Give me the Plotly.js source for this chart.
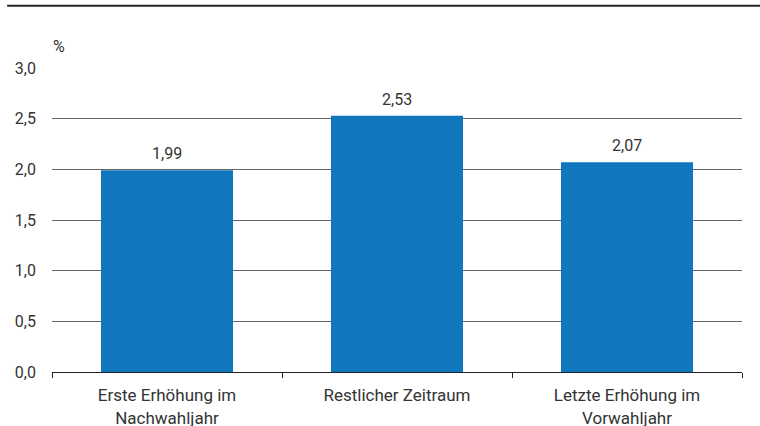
<!DOCTYPE html>
<html><head><meta charset="utf-8">
<script src="https://cdn.plot.ly/plotly-3.0.1.min.js"></script>
<style>body{margin:0;background:#fff}#c{width:760px;height:426px}</style>
</head><body><div id="c"></div>
<script>
const categories = ["Erste Erhöhung im<br>Nachwahljahr", "Restlicher Zeitraum", "Letzte Erhöhung im<br>Vorwahljahr"];
const values = [1.99, 2.53, 2.07];
const valueLabels = ["1,99", "2,53", "2,07"];
const yTickVals = [0, 0.5, 1, 1.5, 2, 2.5, 3];
const yTickText = ["0,0", "0,5", "1,0", "1,5", "2,0", "2,5", "3,0"];

const font = {family: "Roboto, 'Noto Sans', sans-serif", size: 16, color: "#333"};
const xFont = {family: font.family, size: 17, color: "#333"};
const valueAnnotations = categories.map((c, i) => ({
  x: c, y: values[i], xref: "x", yref: "y", text: valueLabels[i],
  showarrow: false, yanchor: "bottom", yshift: 5, font: font
}));
Plotly.newPlot("c", [{
  type: "bar", x: categories, y: values,
  marker: {color: "#1076BE"}, width: 0.574, hoverinfo: "none"
}], {
  width: 760, height: 426,
  margin: {l: 52, r: 18, t: 68, b: 54},
  paper_bgcolor: "#fff", plot_bgcolor: "#fff",
  font: font, showlegend: false,
  xaxis: {tickson: "boundaries", ticks: "outside", ticklen: 5, tickcolor: "#222",
          showline: true, linecolor: "#222", linewidth: 1, showgrid: false,
          tickfont: xFont, ticklabelstandoff: 8},
  yaxis: {range: [0, 3], tickvals: yTickVals, ticktext: yTickText,
          showgrid: true, gridcolor: "#666", gridwidth: 1, zeroline: false,
          showline: false, ticks: "", tickfont: font, ticklabelstandoff: 15},
  annotations: valueAnnotations.concat([{text: "%", xref: "paper", yref: "paper", x: 0, y: 1, xanchor: "left", yanchor: "bottom",
                 xshift: -1, yshift: 10, showarrow: false, font: font}]),
  shapes: [{type: "line", xref: "paper", yref: "paper", x0: -0.065, x1: 1.03, y0: 1.205, y1: 1.205,
            line: {color: "#222", width: 2}}]
}, {staticPlot: true});
</script></body></html>
